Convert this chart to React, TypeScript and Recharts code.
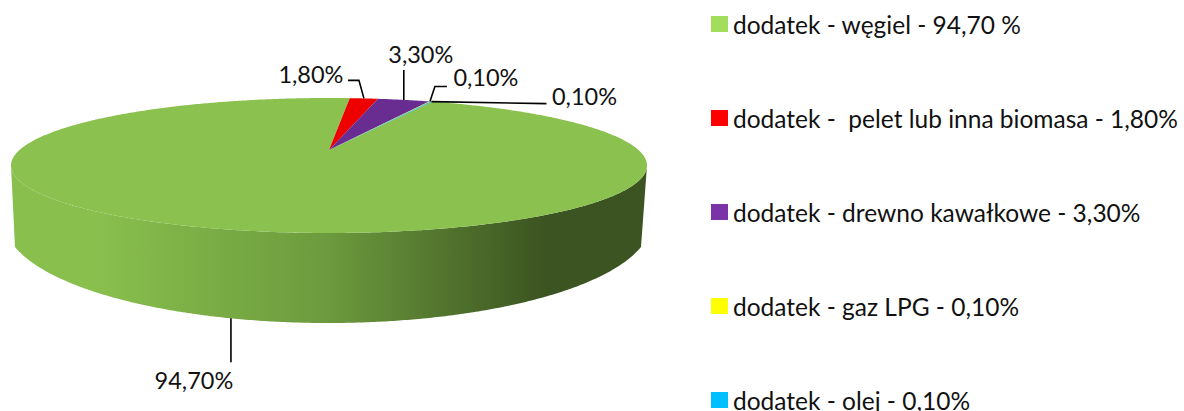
import { PieChart, Pie, Legend } from 'recharts'

const categories = [
  'dodatek - węgiel - 94,70 %',
  'dodatek -  pelet lub inna biomasa - 1,80%',
  'dodatek - drewno kawałkowe - 3,30%',
  'dodatek - gaz LPG - 0,10%',
  'dodatek - olej - 0,10%',
]
const shares = [94.7, 1.8, 3.3, 0.1, 0.1]
const valueLabels = ['94,70%', '1,80%', '3,30%', '0,10%', '0,10%']
const sliceColors = ['#8bc24f', '#ee0000', '#692d92', '#d8d820', '#12b5e8']
const legendColors = ['#a2de5c', '#ff0000', '#7b34a8', '#ffff00', '#00bfff']

const data = categories.map((name, i) => ({ name, value: shares[i], fill: sliceColors[i] }))

// leader polylines and text spots, relative to the rim point of each slice
const leaders = [
  { pts: [[0, 0], [0, 44]], tx: -37, ty: 62 },
  { pts: [[0, 0], [-5, -18], [-16, -18]], tx: -53, ty: -24 },
  { pts: [[0, 0], [0, -30]], tx: 17, ty: -46 },
  { pts: [[0, 0], [5, -15], [17, -15]], tx: 56, ty: -24 },
  { pts: [[0, 0], [115, 2]], tx: 153, ty: -6 },
]

const FONT = 'Lato, Carlito, sans-serif'
const CX = 329
const CY = 150
const RX = 309.5
const RY = 63.94
const K = 0.2296 // perspective of the tilted disc
const START = 66.2
const EDGE = (Math.asin(K) * 180) / Math.PI // where the top rim turns away from the viewer
const LOW_DROP = 72
const LOW_RX = 323
const LOW_RY = 101
const LOW_EDGE = 14.3 // lower rim meets the wall sides here

// circle point -> tilted disc, angle in recharts degrees
function project(angle: number, cx: number, cy: number) {
  const a = (angle * Math.PI) / 180
  const d = 1 + K * Math.sin(a)
  return [cx + (RX * Math.cos(a)) / d, cy - (RY * Math.sin(a)) / d]
}

function lowerRim(angle: number, cx: number, cy: number) {
  const a = (angle * Math.PI) / 180
  return [cx - 1 + LOW_RX * Math.cos(a), cy + LOW_DROP - LOW_RY * Math.sin(a)]
}

function sweep(fn: (a: number) => number[], from: number, to: number) {
  const n = Math.max(2, Math.ceil(Math.abs(to - from) / 0.5))
  const out: number[][] = []
  for (let i = 0; i <= n; i++) out.push(fn(from + ((to - from) * i) / n))
  return out
}

const toPath = (pts: number[][]) =>
  pts.map((p, i) => `${i ? 'L' : 'M'}${p[0].toFixed(2)},${p[1].toFixed(2)}`).join(' ')

function TopSlice(props: any) {
  const { cx, cy, startAngle, endAngle, fill } = props
  const d = toPath([[cx, cy], ...sweep((a) => project(a, cx, cy), startAngle, endAngle)]) + ' Z'
  return <path d={d} fill={fill} stroke="none" />
}

// only the front of the rim is visible, the rest sits behind the top face
function WallSlice(props: any) {
  const { cx, cy } = props
  const upper = sweep((a) => project(a, cx, cy), -EDGE, -180 + EDGE)
  const lower = sweep((a) => lowerRim(a, cx, cy), -180 + LOW_EDGE, -LOW_EDGE)
  return <path d={toPath([...upper, ...lower]) + ' Z'} fill="url(#wallShade)" stroke="none" />
}

function SliceLabel(props: any) {
  const { cx, cy, midAngle, index } = props
  const [x, y] = project(midAngle, cx, cy)
  const l = leaders[index]
  // the big slice faces the viewer, so its leader starts under the wall
  const dx = (x - (cx - 1)) / LOW_RX
  const base = index === 0 ? [x, cy + LOW_DROP + LOW_RY * Math.sqrt(1 - dx * dx)] : [x, y]
  const pts = l.pts.map((p) => [base[0] + p[0], base[1] + p[1]])
  return (
    <g>
      <polyline points={pts.map((p) => p.join(',')).join(' ')} fill="none" stroke="#000" strokeWidth={1.6} />
      <text
        x={base[0] + l.tx}
        y={base[1] + l.ty}
        textAnchor="middle"
        dominantBaseline="central"
        fontFamily={FONT}
        fontSize={23.5}
        fill="#111"
      >
        {valueLabels[index]}
      </text>
    </g>
  )
}

function LegendList({ payload }: any) {
  return (
    <div>
      {(payload || []).slice(-categories.length).map((entry: any, i: number) => (
        <div key={i} style={{ position: 'absolute', left: 0, top: i * 94 - 23, height: 94, display: 'flex', alignItems: 'center', whiteSpace: 'pre' }}>
          <span style={{ width: 17, height: 16, background: legendColors[i], marginRight: 5 }} />
          <span style={{ fontFamily: FONT, fontSize: 24.5, color: '#111' }}>{entry.value}</span>
        </div>
      ))}
    </div>
  )
}

export default function App() {
  return (
    <div style={{ position: 'absolute', left: 0, top: 0, width: 1184, height: 411, overflow: 'hidden', background: '#fff' }}>
      <PieChart width={1184} height={411} margin={{ top: 0, right: 0, bottom: 0, left: 0 }}>
        <defs>
          <linearGradient id="wallShade" gradientUnits="userSpaceOnUse" x1={10} y1={0} x2={646} y2={0}>
            <stop offset="0.14" stopColor="#88bf4d" />
            <stop offset="0.5" stopColor="#6c9a3d" />
            <stop offset="0.84" stopColor="#3c5421" />
            <stop offset="1" stopColor="#3c5421" />
          </linearGradient>
        </defs>
        <Pie
          data={data.slice(0, 1)}
          dataKey="value"
          nameKey="name"
          cx={CX}
          cy={CY}
          outerRadius={RX}
          startAngle={START}
          endAngle={START - 360}
          legendType="none"
          shape={WallSlice}
          isAnimationActive={false}
        />
        <Pie
          data={data}
          dataKey="value"
          nameKey="name"
          cx={CX}
          cy={CY}
          outerRadius={RX}
          startAngle={START}
          endAngle={START - 360}
          shape={TopSlice}
          label={SliceLabel}
          labelLine={false}
          isAnimationActive={false}
        />
        <Legend content={LegendList} itemSorter={null} wrapperStyle={{ position: 'absolute', left: 711, top: 0, width: 473, height: 411 }} />
      </PieChart>
    </div>
  )
}
